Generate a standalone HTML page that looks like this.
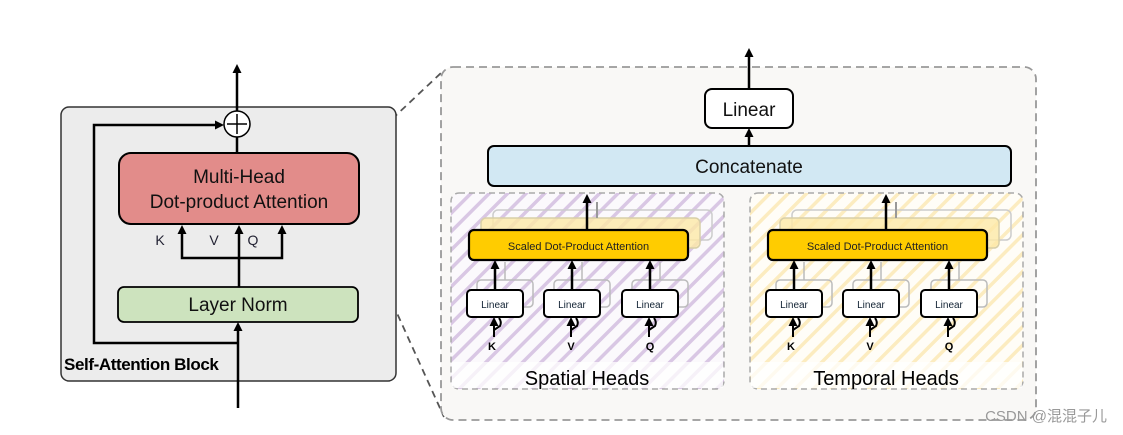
<!DOCTYPE html>
<html><head><meta charset="utf-8"><style>
html,body{margin:0;padding:0;background:#fff;width:1123px;height:435px;overflow:hidden}
text{font-family:"Liberation Sans",sans-serif}
</style></head><body>
<svg width="1123" height="435" viewBox="0 0 1123 435" xmlns="http://www.w3.org/2000/svg">
<defs>
<pattern id="pp" width="13" height="13" patternUnits="userSpaceOnUse" patternTransform="rotate(45)">
<rect width="13" height="13" fill="#fbf9fc"/><rect width="3.5" height="13" fill="#d9c7e4"/>
</pattern>
<pattern id="py" width="13" height="13" patternUnits="userSpaceOnUse" patternTransform="rotate(45)">
<rect width="13" height="13" fill="#fffdf7"/><rect width="3.5" height="13" fill="#fcecc0"/>
</pattern>
<g id="up"><path d="M-4.5,9 L0,0 L4.5,9 Z" fill="#000"/></g>
</defs>

<path d="M357,152 L441,73" stroke="#555" stroke-width="1.8" stroke-dasharray="7,5" fill="none"/>
<path d="M358,227 L444,417" stroke="#555" stroke-width="1.8" stroke-dasharray="7,5" fill="none"/>

<rect x="61" y="107" width="335" height="274" rx="8" fill="#ececec" stroke="#333" stroke-width="1.5"/>
<line x1="237" y1="111" x2="237" y2="72" stroke="#000" stroke-width="2.5"/>
<use href="#up" x="237" y="64"/>
<line x1="237" y1="137" x2="237" y2="153" stroke="#000" stroke-width="2.5"/>
<circle cx="237" cy="124" r="13" fill="#fff" stroke="#000" stroke-width="1.5"/>
<path d="M237,114 V134 M227,124 H247" stroke="#000" stroke-width="1.5"/>
<path d="M238,343 H94 V125 H216" stroke="#000" stroke-width="2.5" fill="none"/>
<path d="M224,125 L215,120.5 L215,129.5 Z" fill="#000"/>
<rect x="119" y="153" width="240" height="71" rx="12" fill="#e28c8a" stroke="#000" stroke-width="2"/>
<text x="239" y="183" font-size="19" text-anchor="middle" fill="#111">Multi-Head</text>
<text x="239" y="208" font-size="19" text-anchor="middle" fill="#111">Dot-product Attention</text>
<path d="M182,234 V258 H282 V234 M239,234 V287" stroke="#000" stroke-width="2.5" fill="none"/>
<use href="#up" x="182" y="225"/><use href="#up" x="239" y="225"/><use href="#up" x="282" y="225"/>
<text x="160" y="245" font-size="14" text-anchor="middle" fill="#223">K</text>
<text x="214" y="245" font-size="14" text-anchor="middle" fill="#223">V</text>
<text x="253" y="245" font-size="14" text-anchor="middle" fill="#223">Q</text>
<rect x="118" y="287" width="240" height="35" rx="6" fill="#cde3be" stroke="#000" stroke-width="1.8"/>
<text x="238" y="311" font-size="19" text-anchor="middle" fill="#111">Layer Norm</text>
<line x1="238" y1="408" x2="238" y2="331" stroke="#000" stroke-width="2.5"/>
<use href="#up" x="238" y="322"/>
<text x="64" y="370" font-size="17" font-weight="bold" fill="#000" letter-spacing="-0.4">Self-Attention Block</text>

<rect x="441" y="67" width="595" height="353" rx="12" fill="#f9f8f6" stroke="#999" stroke-width="1.8" stroke-dasharray="8,5"/>
<line x1="749" y1="89" x2="749" y2="56" stroke="#000" stroke-width="2.5"/>
<use href="#up" x="749" y="48"/>
<rect x="705" y="89" width="88" height="39" rx="7" fill="#fff" stroke="#000" stroke-width="2"/>
<text x="749" y="116" font-size="19" text-anchor="middle" fill="#111">Linear</text>
<line x1="749" y1="146" x2="749" y2="136" stroke="#000" stroke-width="2.5"/>
<use href="#up" x="749" y="128"/>
<rect x="488" y="146" width="523" height="40" rx="6" fill="#d2e8f3" stroke="#000" stroke-width="2"/>
<text x="749" y="173" font-size="19" text-anchor="middle" fill="#111">Concatenate</text>

<g>
<rect x="451" y="193" width="273" height="196" rx="8" fill="url(#pp)" stroke="#aaa" stroke-width="1.5" stroke-dasharray="6,4"/>
<rect x="452" y="362" width="271" height="26" fill="#fff" opacity="0.75"/>
<rect x="493" y="210" width="219" height="30" rx="5" fill="none" stroke="#ccc" stroke-width="1.5"/>
<rect x="481" y="218" width="219" height="30" rx="5" fill="#fde9a6" fill-opacity="0.8" stroke="#d8cfa8" stroke-width="1.5"/>
<line x1="597" y1="218" x2="597" y2="202" stroke="#999" stroke-width="2"/>
<line x1="587" y1="230" x2="587" y2="203" stroke="#000" stroke-width="2.5"/>
<use href="#up" x="587" y="194"/>
<rect x="469" y="230" width="219" height="30" rx="5" fill="#ffcc00" stroke="#000" stroke-width="2.2"/>
<text x="578.5" y="250" font-size="11" text-anchor="middle" fill="#222">Scaled Dot-Product Attention</text>
<g fill="none" stroke="#bbb" stroke-width="1.5">
<rect x="477" y="280" width="56" height="27" rx="4"/><rect x="554" y="280" width="56" height="27" rx="4"/><rect x="632" y="280" width="56" height="27" rx="4"/>
<line x1="505" y1="280" x2="505" y2="262"/><line x1="582" y1="280" x2="582" y2="262"/><line x1="660" y1="280" x2="660" y2="262"/>
</g>
<g stroke="#000" stroke-width="2.5">
<line x1="495" y1="290" x2="495" y2="268"/><line x1="572" y1="290" x2="572" y2="268"/><line x1="650" y1="290" x2="650" y2="268"/>
</g>
<use href="#up" x="495" y="260"/><use href="#up" x="572" y="260"/><use href="#up" x="650" y="260"/>
<g fill="#fff" stroke="#000" stroke-width="2">
<rect x="467" y="290" width="56" height="27" rx="4"/><rect x="544" y="290" width="56" height="27" rx="4"/><rect x="622" y="290" width="56" height="27" rx="4"/>
</g>
<text x="495" y="308" font-size="10" text-anchor="middle" fill="#123">Linear</text>
<text x="572" y="308" font-size="10" text-anchor="middle" fill="#123">Linear</text>
<text x="650" y="308" font-size="10" text-anchor="middle" fill="#123">Linear</text>
<g stroke="#000" stroke-width="2" fill="none">
<path d="M494,337 V324 M494,330 L500,326 Q502,322 499,318"/>
<path d="M571,337 V324 M571,330 L577,326 Q579,322 576,318"/>
<path d="M649,337 V324 M649,330 L655,326 Q657,322 654,318"/>
</g>
<use href="#up" x="494" y="317"/><use href="#up" x="571" y="317"/><use href="#up" x="649" y="317"/>
<text x="492" y="350" font-size="11" font-weight="bold" text-anchor="middle">K</text>
<text x="571" y="350" font-size="11" font-weight="bold" text-anchor="middle">V</text>
<text x="650" y="350" font-size="11" font-weight="bold" text-anchor="middle">Q</text>
</g>
<text x="587" y="385" font-size="20" text-anchor="middle" fill="#000">Spatial Heads</text>

<g transform="translate(299,0)">
<rect x="451" y="193" width="273" height="196" rx="8" fill="url(#py)" stroke="#aaa" stroke-width="1.5" stroke-dasharray="6,4"/>
<rect x="452" y="362" width="271" height="26" fill="#fff" opacity="0.75"/>
<rect x="493" y="210" width="219" height="30" rx="5" fill="none" stroke="#ccc" stroke-width="1.5"/>
<rect x="481" y="218" width="219" height="30" rx="5" fill="#fde9a6" fill-opacity="0.8" stroke="#d8cfa8" stroke-width="1.5"/>
<line x1="597" y1="218" x2="597" y2="202" stroke="#999" stroke-width="2"/>
<line x1="587" y1="230" x2="587" y2="203" stroke="#000" stroke-width="2.5"/>
<use href="#up" x="587" y="194"/>
<rect x="469" y="230" width="219" height="30" rx="5" fill="#ffcc00" stroke="#000" stroke-width="2.2"/>
<text x="578.5" y="250" font-size="11" text-anchor="middle" fill="#222">Scaled Dot-Product Attention</text>
<g fill="none" stroke="#bbb" stroke-width="1.5">
<rect x="477" y="280" width="56" height="27" rx="4"/><rect x="554" y="280" width="56" height="27" rx="4"/><rect x="632" y="280" width="56" height="27" rx="4"/>
<line x1="505" y1="280" x2="505" y2="262"/><line x1="582" y1="280" x2="582" y2="262"/><line x1="660" y1="280" x2="660" y2="262"/>
</g>
<g stroke="#000" stroke-width="2.5">
<line x1="495" y1="290" x2="495" y2="268"/><line x1="572" y1="290" x2="572" y2="268"/><line x1="650" y1="290" x2="650" y2="268"/>
</g>
<use href="#up" x="495" y="260"/><use href="#up" x="572" y="260"/><use href="#up" x="650" y="260"/>
<g fill="#fff" stroke="#000" stroke-width="2">
<rect x="467" y="290" width="56" height="27" rx="4"/><rect x="544" y="290" width="56" height="27" rx="4"/><rect x="622" y="290" width="56" height="27" rx="4"/>
</g>
<text x="495" y="308" font-size="10" text-anchor="middle" fill="#123">Linear</text>
<text x="572" y="308" font-size="10" text-anchor="middle" fill="#123">Linear</text>
<text x="650" y="308" font-size="10" text-anchor="middle" fill="#123">Linear</text>
<g stroke="#000" stroke-width="2" fill="none">
<path d="M494,337 V324 M494,330 L500,326 Q502,322 499,318"/>
<path d="M571,337 V324 M571,330 L577,326 Q579,322 576,318"/>
<path d="M649,337 V324 M649,330 L655,326 Q657,322 654,318"/>
</g>
<use href="#up" x="494" y="317"/><use href="#up" x="571" y="317"/><use href="#up" x="649" y="317"/>
<text x="492" y="350" font-size="11" font-weight="bold" text-anchor="middle">K</text>
<text x="571" y="350" font-size="11" font-weight="bold" text-anchor="middle">V</text>
<text x="650" y="350" font-size="11" font-weight="bold" text-anchor="middle">Q</text>
</g>
<text x="886" y="385" font-size="20" text-anchor="middle" fill="#000">Temporal Heads</text>

<text x="1107" y="421" font-size="15" text-anchor="end" fill="#999" style="font-family:'Liberation Sans','Noto Sans CJK SC',sans-serif">CSDN @混混子儿</text>
</svg>
</body></html>
